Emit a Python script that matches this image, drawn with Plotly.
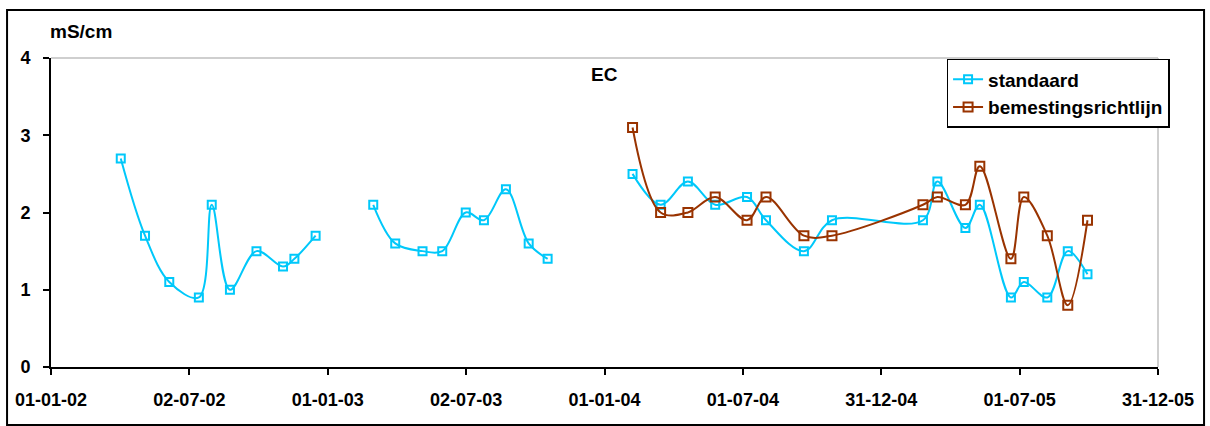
import plotly.graph_objects as go

# EC measurements (mS/cm); None marks a break between measuring seasons
std_dates = [
    "2002-04-03", "2002-05-05", "2002-06-06", "2002-07-15", "2002-08-01",
    "2002-08-25", "2002-09-29", "2002-11-03", "2002-11-18", "2002-12-16",
    "2003-01-20",
    "2003-03-02", "2003-03-31", "2003-05-06", "2003-06-01", "2003-07-02",
    "2003-07-26", "2003-08-24", "2003-09-23", "2003-10-18",
    "2003-12-15",
    "2004-02-07", "2004-03-15", "2004-04-20", "2004-05-26", "2004-07-07",
    "2004-08-01", "2004-09-20", "2004-10-27", "2005-02-24", "2005-03-15",
    "2005-04-21", "2005-05-10", "2005-06-20", "2005-07-07", "2005-08-07",
    "2005-09-03", "2005-09-29",
]
std_values = [
    2.7, 1.7, 1.1, 0.9, 2.1, 1.0, 1.5, 1.3, 1.4, 1.7,
    None,
    2.1, 1.6, 1.5, 1.5, 2.0, 1.9, 2.3, 1.6, 1.4,
    None,
    2.5, 2.1, 2.4, 2.1, 2.2, 1.9, 1.5, 1.9, 1.9, 2.4,
    1.8, 2.1, 0.9, 1.1, 0.9, 1.5, 1.2,
]

brl_dates = [
    "2004-02-07", "2004-03-15", "2004-04-20", "2004-05-26", "2004-07-07",
    "2004-08-01", "2004-09-20", "2004-10-27", "2005-02-24", "2005-03-15",
    "2005-04-21", "2005-05-10", "2005-06-20", "2005-07-07", "2005-08-07",
    "2005-09-03", "2005-09-29",
]
brl_values = [
    3.1, 2.0, 2.0, 2.2, 1.9, 2.2, 1.7, 1.7, 2.1, 2.2,
    2.1, 2.6, 1.4, 2.2, 1.7, 0.8, 1.9,
]

x_tick_vals = [
    "2002-01-01", "2002-07-02 12:00", "2003-01-01", "2003-07-02 12:00",
    "2004-01-01", "2004-07-01 12:00", "2004-12-31", "2005-07-01 12:00",
    "2005-12-31",
]
x_tick_text = [
    "01-01-02", "02-07-02", "01-01-03", "02-07-03", "01-01-04",
    "01-07-04", "31-12-04", "01-07-05", "31-12-05",
]
y_tick_vals = [0, 1, 2, 3, 4]

FONT = "Liberation Sans, Arial, sans-serif"
BLUE = "#00C8FA"
BROWN = "#993300"

fig = go.Figure()
fig.add_trace(go.Scatter(
    x=std_dates, y=std_values, name="standaard", mode="lines+markers",
    line=dict(color=BLUE, width=2, shape="spline", smoothing=1.0),
    marker=dict(symbol="square-open", size=8, color=BLUE, line=dict(width=2)),
    connectgaps=False,
))
fig.add_trace(go.Scatter(
    x=brl_dates, y=brl_values, name="bemestingsrichtlijn", mode="lines+markers",
    line=dict(color=BROWN, width=2, shape="spline", smoothing=1.0),
    marker=dict(symbol="square-open", size=9, color=BROWN, line=dict(width=2)),
))

axis_common = dict(
    showline=True, linecolor="black", linewidth=2,
    ticks="outside", ticklen=6, tickwidth=2, tickcolor="black",
    showgrid=False, zeroline=False, mirror=False,
)

fig.update_layout(
    width=1210, height=426,
    margin=dict(l=51, r=52, t=58, b=59),
    paper_bgcolor="white", plot_bgcolor="white",
    font=dict(family=FONT, color="black"),
    xaxis=dict(
        type="date", range=["2002-01-01", "2005-12-31"],
        tickvals=x_tick_vals, ticktext=x_tick_text,
        tickfont=dict(size=18, weight="bold"), ticklabelstandoff=9,
        **axis_common,
    ),
    yaxis=dict(
        range=[0, 4], tickvals=y_tick_vals,
        tickfont=dict(size=18, weight="bold"), ticklabelstandoff=9,
        **axis_common,
    ),
    legend=dict(
        x=0.809, y=0.997, xanchor="left", yanchor="top",
        bgcolor="white", bordercolor="black", borderwidth=1.5,
        font=dict(size=19, weight="bold"), itemwidth=30,
        tracegroupgap=0,
    ),
    showlegend=True,
)

# gray plot-area border on top and right
fig.add_shape(type="line", xref="paper", yref="paper", x0=0, x1=1, y0=1, y1=1,
              line=dict(color="#BFBFBF", width=1.5), layer="below")
fig.add_shape(type="line", xref="paper", yref="paper", x0=1, x1=1, y0=0, y1=1,
              line=dict(color="#BFBFBF", width=1.5), layer="below")

# outer chart frame
fig.add_shape(type="rect", xref="paper", yref="paper",
              x0=-0.0397, x1=1.0416, y0=-0.188, y1=1.155,
              line=dict(color="black", width=2))

fig.add_annotation(text="mS/cm", xref="paper", yref="paper",
                   x=-0.003, y=1.087, xanchor="left", yanchor="middle",
                   showarrow=False, font=dict(size=19, weight="bold"))
fig.add_annotation(text="EC", xref="paper", yref="paper",
                   x=0.5, y=0.945, xanchor="center", yanchor="middle",
                   showarrow=False, font=dict(size=19, weight="bold"))

fig.write_html("out.html")
